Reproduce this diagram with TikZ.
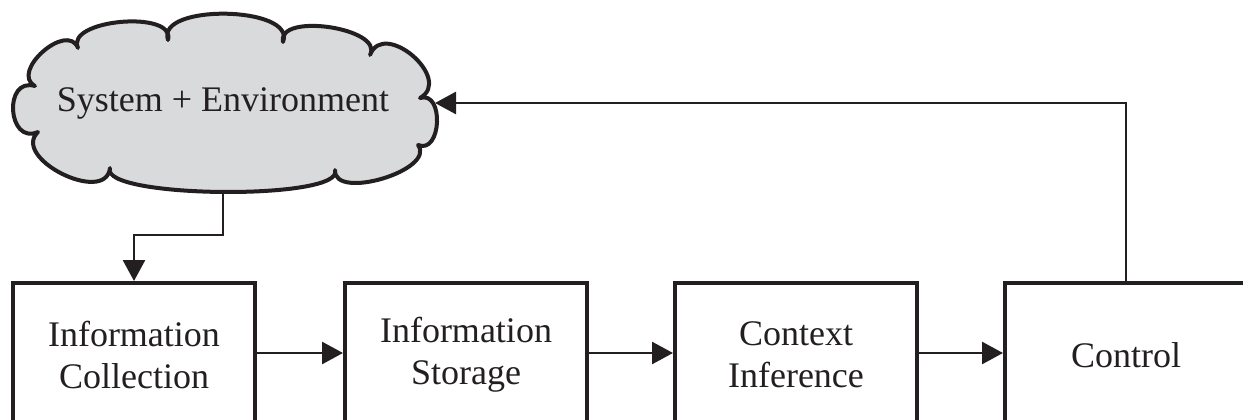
\documentclass[tikz,border=0pt]{standalone}
\usepackage{fontspec}
\setmainfont{Liberation Serif}
\usetikzlibrary{arrows.meta}
\definecolor{ink}{HTML}{231F20}
\definecolor{cloudfill}{HTML}{D9DADC}
\begin{document}
\begin{tikzpicture}[x=1pt,y=-1pt,
  txt/.style={text=ink,font=\fontsize{36}{42}\selectfont,align=center},
  box/.style={txt,draw=ink,line width=4pt,minimum width=242pt,minimum height=144pt,inner sep=0pt},
  conn/.style={draw=ink,line width=2.7pt,-{Triangle[length=21pt,width=22pt]}},
  lobe/.style={bend left=110,looseness=#1}]
\useasboundingbox (0,0) rectangle (1243,420);
\clip (0,0) rectangle (1243,420);
% cloud
\path[draw=ink,fill=cloudfill,line width=4pt,line join=round]
  (35,86) to[lobe=1.3] (78,48)
  to[lobe=0.89] (168,40)
  to[lobe=0.86] (283,42)
  to[lobe=0.89] (370,55)
  to[lobe=1.5] (420,98)
  to[lobe=1.39] (418,145)
  to[lobe=0.92] (335,170)
  to[lobe=0.37] (110,168)
  to[lobe=1.2] (38,132)
  to[lobe=1.85] cycle;
\node[txt] (env) at (223,103) {System + Environment};
\coordinate (cr) at (435,103);
\coordinate (cb) at (223,190);
% boxes
\node[box] (b1) at (134,355) {Information\\Collection};
\node[box] (b2) at (466,355) {Information\\Storage};
\node[box] (b3) at (796,355) {Context\\Inference};
\node[box] (b4) at (1126,355) {Control};
% connectors
\draw[conn] (cb) -- ++(0,45) -| (b1.north);
\draw[conn] ([yshift=2pt]b1.east) -- ([yshift=2pt]b2.west);
\draw[conn] ([yshift=2pt]b2.east) -- ([yshift=2pt]b3.west);
\draw[conn] ([yshift=2pt]b3.east) -- ([yshift=2pt]b4.west);
\draw[conn] (b4.north) |- (cr);
\end{tikzpicture}
\end{document}
